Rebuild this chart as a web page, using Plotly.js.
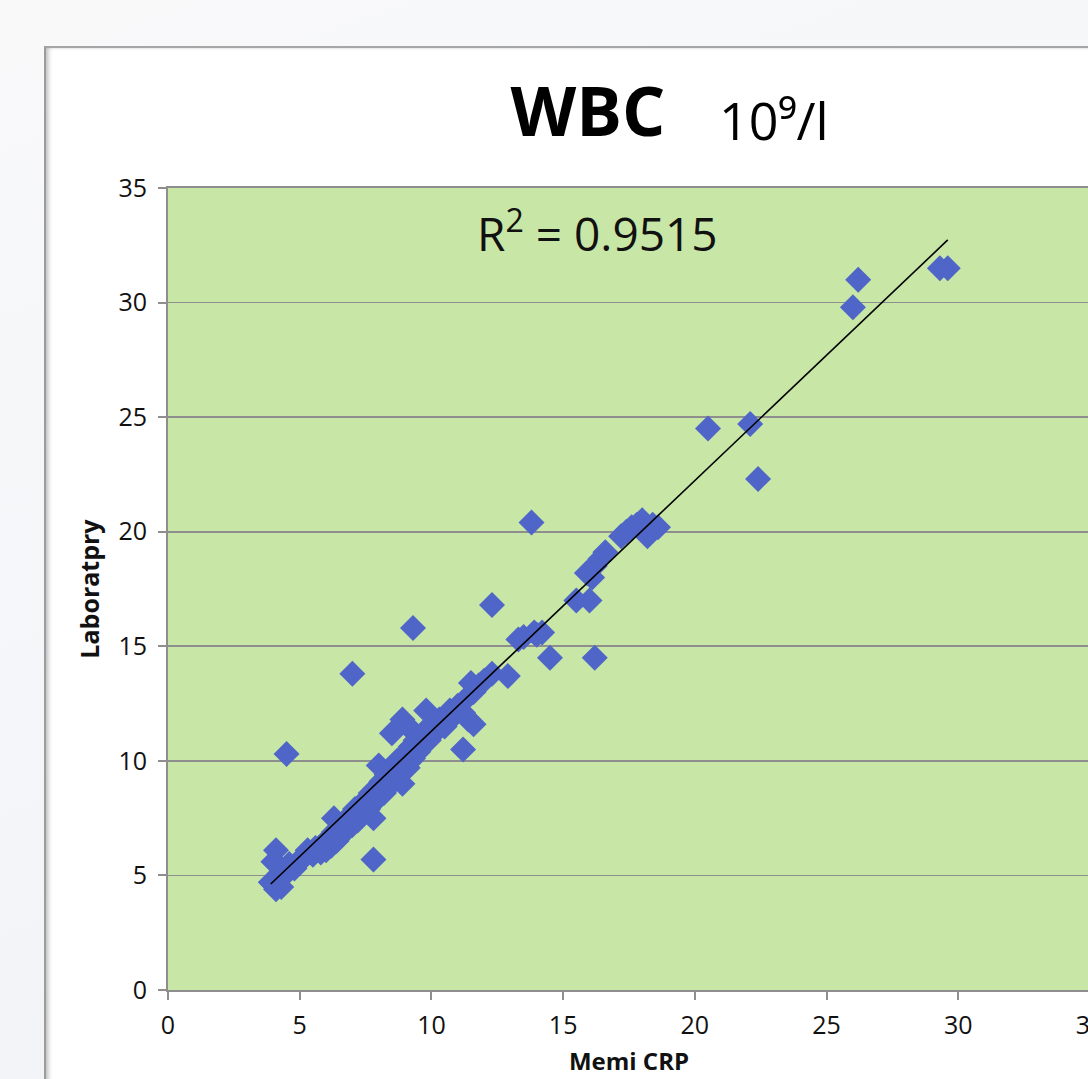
<!DOCTYPE html>
<html>
<head>
<meta charset="utf-8">
<script src="https://cdn.plot.ly/plotly-3.0.1.min.js"></script>
<style>
  html, body { margin:0; padding:0; width:1088px; height:1079px; overflow:hidden;
    background: linear-gradient(160deg, #f9f9fa 0%, #f3f5f8 60%, #eef1f6 100%); }
  #frame { position:absolute; left:44px; top:46px; width:1200px; height:1200px; background:#ffffff;
    border-left:2px solid #9c9c9c; border-top:2px solid #a6a6a6;
    box-shadow: inset 5px 0 5px -3px rgba(0,0,0,0.28), inset 0 2px 3px -2px rgba(0,0,0,0.15); }
  #chart { position:absolute; left:0; top:0; width:1130px; height:1079px; }
</style>
</head>
<body>
<div id="frame"></div>
<div id="chart"></div>
<script>
// Memi CRP (x) vs Laboratory (y), WBC 10^9/l
const memiCRP = [
  4.0, 4.1, 4.3, 3.9, 4.2, 4.1, 4.0, 4.3, 4.5, 4.6, 4.8, 5.0, 5.2, 5.3, 5.5, 5.6, 5.8, 5.9, 6.0, 6.1,
  6.2, 6.3, 6.4, 6.3, 6.5, 6.6, 6.7, 6.8, 6.9, 7.0, 7.1, 7.2, 7.3, 7.4, 7.5, 7.6, 7.7, 7.8, 7.8, 7.9,
  8.0, 8.0, 8.1, 8.2, 8.3, 8.4, 8.5, 8.5, 8.6, 8.7, 8.8, 8.9, 8.9, 9.0, 9.1, 9.2, 9.2, 9.3, 9.4, 9.5,
  9.6, 9.7, 9.8, 9.8, 9.9, 10.0, 10.1, 10.3, 10.5, 10.7, 10.8, 11.0, 11.2, 11.4, 11.5, 11.3, 11.6, 11.8,
  12.0, 12.3, 12.9, 11.6,
  4.5, 7.0, 9.3, 7.8, 12.3, 13.8, 11.2, 14.5, 16.2, 16.0, 15.5,
  13.3, 13.5, 13.9, 14.2, 14.0,
  15.9, 16.1, 16.2, 16.4, 16.6,
  17.2, 17.4, 17.6, 17.8, 18.0, 18.2, 18.4, 18.6,
  20.5, 22.1, 22.4, 26.0, 26.2, 29.3, 29.6
];
const laboratory = [
  4.6, 4.4, 4.5, 4.7, 4.8, 6.1, 5.6, 5.3, 5.1, 5.5, 5.3, 5.6, 5.9, 6.1, 5.9, 6.2, 6.0, 6.4, 6.1, 6.6,
  6.3, 6.9, 6.5, 7.5, 7.1, 6.8, 7.3, 7.0, 7.6, 7.2, 7.9, 7.4, 8.0, 7.7, 8.3, 7.9, 8.6, 7.5, 8.2, 8.8,
  8.4, 9.8, 9.1, 8.6, 9.4, 8.9, 9.7, 11.2, 9.2, 10.0, 9.5, 11.8, 9.0, 10.3, 9.7, 10.6, 11.4, 10.1, 10.9, 10.4,
  11.1, 10.7, 12.2, 11.3, 10.9, 11.6, 11.2, 11.8, 11.5, 12.2, 11.9, 12.4, 12.1, 11.8, 13.4, 12.7, 13.0, 13.3,
  13.5, 13.8, 13.7, 11.6,
  10.3, 13.8, 15.8, 5.7, 16.8, 20.4, 10.5, 14.5, 14.5, 17.0, 17.0,
  15.3, 15.4, 15.6, 15.6, 15.5,
  18.2, 18.0, 18.5, 18.8, 19.1,
  19.8, 20.0, 20.2, 20.3, 20.5, 19.8, 20.3, 20.2,
  24.5, 24.7, 22.3, 29.8, 31.0, 31.5, 31.5
];
const xTicks = [0, 5, 10, 15, 20, 25, 30, 35];
const yTicks = [0, 5, 10, 15, 20, 25, 30, 35];
const r2Label = 'R<sup>2</sup> = 0.9515';
const titleMain = 'WBC';
const titleUnit = '10⁹/l';
const xTitle = 'Memi CRP';
const yTitle = 'Laboratpry';

// linear least-squares trend line
const n = memiCRP.length;
let sx = 0, sy = 0, sxx = 0, sxy = 0;
for (let i = 0; i < n; i++) { sx += memiCRP[i]; sy += laboratory[i]; sxx += memiCRP[i]*memiCRP[i]; sxy += memiCRP[i]*laboratory[i]; }
const slope = (n*sxy - sx*sy) / (n*sxx - sx*sx);
const icpt = (sy - slope*sx) / n;
const xmin = Math.min(...memiCRP), xmax = Math.max(...memiCRP);
const trendX = [xmin, xmax];
const trendY = trendX.map(v => slope*v + icpt);

const font = 'Open Sans, DejaVu Sans, sans-serif';
const grey = '#8e8e8e';
const W = 1130, H = 1079;

const data = [
  { type:'scatter', mode:'markers', x: memiCRP, y: laboratory,
    marker:{ symbol:'diamond', size:20, color:'#4f66c8', line:{width:0} }, hoverinfo:'x+y' },
  { type:'scatter', mode:'lines', x: trendX, y: trendY, line:{ color:'#000000', width:1.6 }, hoverinfo:'skip' }
];

const layout = {
  width:W, height:H, autosize:false,
  margin:{ l:168, r:W-168-922, t:188, b:89, pad:0 },
  paper_bgcolor:'rgba(0,0,0,0)', plot_bgcolor:'#c8e6a6',
  showlegend:false,
  font:{ family:font, color:'#111111' },
  title:{ text:'<b>'+titleMain+'</b>', font:{ family:font, size:68, color:'#000000' },
    xref:'container', yref:'container', x:588/W, xanchor:'center', y:1-112/H, yanchor:'middle' },
  xaxis:{ range:[0,35], tickvals:xTicks, ticktext:xTicks.map(String), showgrid:false, zeroline:false,
    showline:true, linecolor:grey, linewidth:2, mirror:true, ticklabeloverflow:'allow',
    ticks:'outside', ticklen:8, tickwidth:2, tickcolor:grey, ticklabelstandoff:4,
    tickfont:{ family:font, size:25, color:'#111111' },
    title:{ text:'<b>'+xTitle+'</b>', font:{ family:font, size:24, color:'#111111' }, standoff:13 } },
  yaxis:{ range:[0,35], tickvals:yTicks, ticktext:yTicks.map(String), showgrid:true, gridcolor:grey, gridwidth:1.6,
    zeroline:false, showline:true, linecolor:grey, linewidth:2, mirror:true,
    ticks:'outside', ticklen:8, tickwidth:2, tickcolor:grey, ticklabelstandoff:6,
    tickfont:{ family:font, size:25, color:'#111111' },
    title:{ text:'<b>'+yTitle+'</b>', font:{ family:font, size:25, color:'#111111' }, standoff:12 } },
  annotations:[
    { text:titleUnit, xref:'paper', yref:'paper', x:(774-168)/922, y:(990-120)/802, xanchor:'center', yanchor:'middle',
      showarrow:false, font:{ family:font, size:52, color:'#000000' } },
    { text:r2Label, xref:'paper', yref:'paper', x:(597-168)/922, y:(990-231)/802, xanchor:'center', yanchor:'middle',
      showarrow:false, font:{ family:font, size:46, color:'#111111' } }
  ]
};

Plotly.newPlot('chart', data, layout, { displayModeBar:false, staticPlot:true });
</script>
</body>
</html>
